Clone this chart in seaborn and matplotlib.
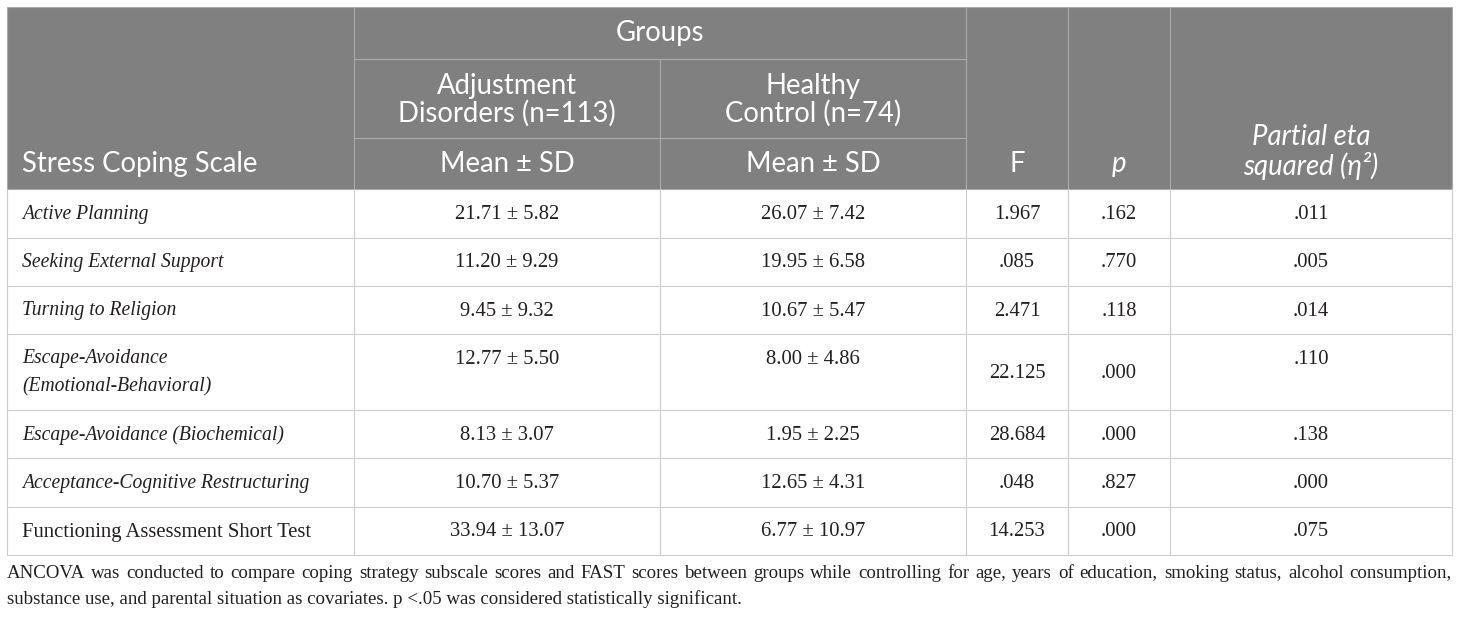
import matplotlib
matplotlib.use("Agg")
import matplotlib.pyplot as plt
import seaborn as sns
from matplotlib.patches import Rectangle

# ---------------- data ----------------
scales = ["Active Planning", "Seeking External Support", "Turning to Religion",
          "Escape-Avoidance\n(Emotional-Behavioral)", "Escape-Avoidance (Biochemical)",
          "Acceptance-Cognitive Restructuring", "Functioning Assessment Short Test"]
scale_italic = [True, True, True, True, True, True, False]
ad_mean = [21.71, 11.20, 9.45, 12.77, 8.13, 10.70, 33.94]
ad_sd = [5.82, 9.29, 9.32, 5.50, 3.07, 5.37, 13.07]
hc_mean = [26.07, 19.95, 10.67, 8.00, 1.95, 12.65, 6.77]
hc_sd = [7.42, 6.58, 5.47, 4.86, 2.25, 4.31, 10.97]
f_vals = ["1.967", ".085", "2.471", "22.125", "28.684", ".048", "14.253"]
p_vals = [".162", ".770", ".118", ".000", ".000", ".827", ".000"]
eta_vals = [".011", ".005", ".014", ".110", ".138", ".000", ".075"]

header_scale = "Stress Coping Scale"
header_groups = "Groups"
header_ad = ["Adjustment", "Disorders (n=113)"]
header_hc = ["Healthy", "Control (n=74)"]
header_ms = "Mean ± SD"
header_f = "F"
header_p = "p"
header_eta = ["Partial eta", "squared (η²)"]
foot1 = ("ANCOVA was conducted to compare coping strategy subscale scores and FAST scores between groups "
         "while controlling for age, years of education, smoking status, alcohol consumption,")
foot2 = "substance use, and parental situation as covariates. p <.05 was considered statistically significant."

# ---------------- layout ----------------
sns.set_theme(style="white")
W, H = 1460, 617
fig = plt.figure(figsize=(W / 100, H / 100), dpi=100)
ax = fig.add_axes([0, 0, 1, 1])
ax.set_xlim(0, W)
ax.set_ylim(H, 0)
ax.axis("off")
renderer = fig.canvas.get_renderer()

SANS = "Lato"
SERIF = "Liberation Serif"
HDR_BG = "#808080"
HDR_LINE = "#ababab"
GRID = "#cccccc"
TXT = "#231f20"

cols = [7, 354, 660, 966, 1068, 1170, 1452]
top, h1, h2, hb = 7, 59, 138, 189
rows = [189, 237.5, 286, 334, 410, 458, 507, 555]


def fit(text, target, **kw):
    t = ax.text(0, 100, text, fontsize=20, **kw)
    w = t.get_window_extent(renderer).width
    t.remove()
    return 20 * target / w


hdr_fs = fit(header_scale, 236, family=SANS)
body_fs = fit(scales[-1], 290, family=SERIF)
ital_fs = fit(scales[5], 287, family=SERIF, style="italic")
foot_fs = fit(foot2, 737, family=SERIF)

# header background
lw = 0.8
ax.add_patch(Rectangle((cols[0], top), cols[-1] - cols[0], hb - top,
                       facecolor=HDR_BG, edgecolor=HDR_LINE, lw=lw, zorder=1))
for x in [cols[1], cols[3], cols[4], cols[5]]:
    ax.plot([x, x], [top, hb], color=HDR_LINE, lw=lw, zorder=2)
ax.plot([cols[2], cols[2]], [h1, hb], color=HDR_LINE, lw=lw, zorder=2)
for y in [h1, h2]:
    ax.plot([cols[1], cols[3]], [y, y], color=HDR_LINE, lw=lw, zorder=2)

# header text
hk = dict(family=SANS, fontsize=hdr_fs, color="white", va="center", zorder=3)
ax.text(22, 164, header_scale, ha="left", **hk)
ax.text((cols[1] + cols[3]) / 2, 33, header_groups, ha="center", **hk)
for i, (a, b) in enumerate(zip(header_ad, header_hc)):
    yy = 86 + 27 * i
    ax.text((cols[1] + cols[2]) / 2, yy, a, ha="center", **hk)
    ax.text((cols[2] + cols[3]) / 2, yy, b, ha="center", **hk)
ax.text((cols[1] + cols[2]) / 2, 164, header_ms, ha="center", **hk)
ax.text((cols[2] + cols[3]) / 2, 164, header_ms, ha="center", **hk)
ax.text((cols[3] + cols[4]) / 2, 164, header_f, ha="center", **hk)
ax.text((cols[4] + cols[5]) / 2, 164, header_p, ha="center", style="italic", **hk)
ax.text((cols[5] + cols[6]) / 2, 137, header_eta[0], ha="center", style="italic", **hk)
ax.text((cols[5] + cols[6]) / 2, 166, header_eta[1], ha="center", style="italic", **hk)

# body grid
for y in rows[1:]:
    ax.plot([cols[0], cols[-1]], [y, y], color=GRID, lw=lw, zorder=2)
for x in cols:
    ax.plot([x, x], [rows[0], rows[-1]], color=GRID, lw=lw, zorder=2)

bk = dict(family=SERIF, color=TXT, va="center", zorder=3)
centers = [(cols[i] + cols[i + 1]) / 2 for i in range(len(cols) - 1)]
for i in range(len(scales)):
    y0, y1 = rows[i], rows[i + 1]
    yc = (y0 + y1) / 2 + 1
    lines = scales[i].split("\n")
    if scale_italic[i]:
        sk = dict(style="italic", fontsize=ital_fs)
    else:
        sk = dict(style="normal", fontsize=body_fs)
    ytop = yc if len(lines) == 1 else y0 + 25
    for j, ln in enumerate(lines):
        ax.text(22, ytop + 28 * j, ln, ha="left", **sk, **bk)
    ax.text(centers[1], ytop, f"{ad_mean[i]:.2f} ± {ad_sd[i]:.2f}", ha="center", fontsize=body_fs, **bk)
    ax.text(centers[2], ytop, f"{hc_mean[i]:.2f} ± {hc_sd[i]:.2f}", ha="center", fontsize=body_fs, **bk)
    ax.text(centers[3], yc, f_vals[i], ha="center", fontsize=body_fs, **bk)
    ax.text(centers[4], yc, p_vals[i], ha="center", fontsize=body_fs, **bk)
    ax.text(centers[5], ytop, eta_vals[i], ha="center", fontsize=body_fs, **bk)

# footnote (line 1 justified)
fk = dict(family=SERIF, fontsize=foot_fs, color=TXT, va="center", ha="left")
words = foot1.split(" ")
widths = []
for wd in words:
    t = ax.text(0, 100, wd, **fk)
    widths.append(t.get_window_extent(renderer).width)
    t.remove()
gap = (cols[-1] - cols[0] - sum(widths)) / (len(words) - 1)
x = cols[0]
for wd, wv in zip(words, widths):
    ax.text(x, 573, wd, **fk)
    x += wv + gap
ax.text(cols[0], 599, foot2, **fk)

fig.savefig("out.png", dpi=100, facecolor="white")
